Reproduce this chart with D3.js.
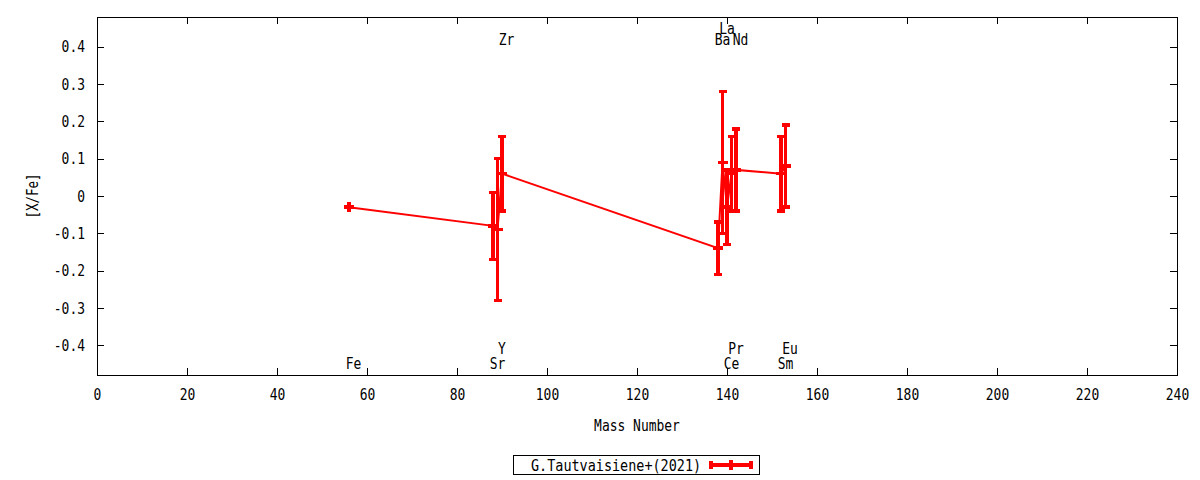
<!DOCTYPE html>
<html>
<head>
<meta charset="utf-8">
<title>[X/Fe] vs Mass Number</title>
<script src="https://d3js.org/d3.v7.min.js"></script>
<style>
  body { margin: 0; background: white; }
  text { font-family: "DejaVu Sans Mono", "Liberation Mono", monospace; font-size: 16px; fill: black; }
</style>
</head>
<body>
<div id="chart"></div>
<script>
// data
const elements   = ["Fe", "Sr", "Y", "Zr", "Ba", "La", "Ce", "Pr", "Nd", "Sm", "Eu"];
const masses     = [56, 88, 89, 90, 138, 139, 140, 141, 142, 152, 153];
const abundances = [-0.03, -0.08, -0.09, 0.06, -0.14, 0.09, -0.03, 0.06, 0.07, 0.06, 0.08];
const errors     = [0.00, 0.09, 0.19, 0.10, 0.07, 0.19, 0.10, 0.10, 0.11, 0.10, 0.11];
const labelY     = [-0.45, -0.45, -0.41, 0.42, 0.42, 0.45, -0.45, -0.41, 0.42, -0.45, -0.41];
const xTicks = [0, 20, 40, 60, 80, 100, 120, 140, 160, 180, 200, 220, 240];
const yTicks = [-0.4, -0.3, -0.2, -0.1, 0, 0.1, 0.2, 0.3, 0.4];
const seriesName = "G.Tautvaisiene+(2021)";

const W = 1200, H = 480;
const margin = {top: 17, right: 23, bottom: 105, left: 97};
const w = W - margin.left - margin.right;
const h = H - margin.top - margin.bottom;
const red = "#ff0000";
const charW = 7.8;

// compress monospace glyphs to the narrow look of the original
function squeeze(sel, cw) {
  sel.attr("textLength", function() { return this.textContent.length * (cw || charW); })
     .attr("lengthAdjust", "spacingAndGlyphs");
}

const svg = d3.select("#chart").append("svg")
  .attr("width", W).attr("height", H)
  .style("background", "white");

const g = svg.append("g").attr("transform", `translate(${margin.left},${margin.top})`);

const x = d3.scaleLinear().domain([0, 240]).range([0, w]);
const y = d3.scaleLinear().domain([-0.48, 0.48]).range([h, 0]);

const yFmt = d => d === 0 ? "0" : String(Math.round(d * 10) / 10);

// axes, ticks pointing inward, mirrored on top/right
g.append("g").attr("transform", `translate(0,${h})`)
  .call(d3.axisBottom(x).tickValues(xTicks).tickSizeInner(-7).tickSizeOuter(0).tickPadding(14).tickFormat(d3.format("d")));
g.append("g")
  .call(d3.axisLeft(y).tickValues(yTicks).tickSizeInner(-7).tickSizeOuter(0).tickPadding(12).tickFormat(yFmt));
g.append("g")
  .call(d3.axisTop(x).tickValues(xTicks).tickSizeInner(-7).tickSizeOuter(0).tickFormat(""));
g.append("g").attr("transform", `translate(${w},0)`)
  .call(d3.axisRight(y).tickValues(yTicks).tickSizeInner(-7).tickSizeOuter(0).tickFormat(""));

g.selectAll(".domain").remove();
g.selectAll(".tick line").attr("stroke", "black").attr("shape-rendering", "crispEdges");
g.selectAll(".tick text").attr("font-size", null).attr("font-family", null).call(squeeze);

g.append("rect")
  .attr("x", 0).attr("y", 0).attr("width", w).attr("height", h)
  .attr("fill", "none").attr("stroke", "black").attr("stroke-width", 1)
  .attr("shape-rendering", "crispEdges");

// axis titles
svg.append("text")
  .attr("x", margin.left + w / 2).attr("y", 425).attr("dy", "0.35em")
  .attr("text-anchor", "middle").text("Mass Number").call(squeeze);
svg.append("text")
  .attr("transform", `translate(32,${margin.top + h / 2}) rotate(-90)`)
  .attr("dy", "0.35em").attr("text-anchor", "middle").text("[X/Fe]").call(squeeze, 7.5);

// element labels
g.append("g").selectAll("text")
  .data(elements)
  .join("text")
  .attr("x", (d, i) => x(masses[i]) + 4.5)
  .attr("y", (d, i) => y(labelY[i]))
  .attr("dy", "0.35em")
  .attr("text-anchor", "middle")
  .text(d => d)
  .call(squeeze);

// data
const pts = masses.map((m, i) => ({m: m, v: abundances[i], e: errors[i]}));
const plot = g.append("g");

plot.append("path")
  .datum(pts)
  .attr("fill", "none").attr("stroke", red).attr("stroke-width", 2)
  .attr("d", d3.line().x(d => x(d.m)).y(d => y(d.v)));

const capW = 4;
const bars = plot.append("g").selectAll("g").data(pts).join("g")
  .attr("stroke", red).attr("stroke-width", 3.5).attr("shape-rendering", "crispEdges");
bars.append("line")
  .attr("x1", d => x(d.m)).attr("x2", d => x(d.m))
  .attr("y1", d => y(d.v - d.e)).attr("y2", d => y(d.v + d.e));
bars.append("line")
  .attr("x1", d => x(d.m) - capW).attr("x2", d => x(d.m) + capW)
  .attr("y1", d => y(d.v + d.e)).attr("y2", d => y(d.v + d.e));
bars.append("line")
  .attr("x1", d => x(d.m) - capW).attr("x2", d => x(d.m) + capW)
  .attr("y1", d => y(d.v - d.e)).attr("y2", d => y(d.v - d.e));
// "+" point marks
bars.append("line")
  .attr("x1", d => x(d.m) - 5).attr("x2", d => x(d.m) + 5)
  .attr("y1", d => y(d.v)).attr("y2", d => y(d.v));
bars.append("line")
  .attr("x1", d => x(d.m)).attr("x2", d => x(d.m))
  .attr("y1", d => y(d.v) - 5).attr("y2", d => y(d.v) + 5);

// legend
const lg = svg.append("g").attr("transform", "translate(513,455)");
lg.append("rect").attr("width", 246).attr("height", 19)
  .attr("fill", "white").attr("stroke", "black").attr("stroke-width", 1)
  .attr("shape-rendering", "crispEdges");
lg.append("text").attr("x", 18).attr("y", 10).attr("dy", "0.35em")
  .text(seriesName).call(squeeze, 8.1);
const ls = lg.append("g").attr("stroke", red).attr("stroke-width", 3.5).attr("shape-rendering", "crispEdges");
ls.append("line").attr("x1", 197).attr("x2", 239).attr("y1", 10).attr("y2", 10);
ls.append("line").attr("x1", 198).attr("x2", 198).attr("y1", 6).attr("y2", 14);
ls.append("line").attr("x1", 238).attr("x2", 238).attr("y1", 6).attr("y2", 14);
ls.append("line").attr("x1", 218).attr("x2", 218).attr("y1", 5).attr("y2", 15);
</script>
</body>
</html>
